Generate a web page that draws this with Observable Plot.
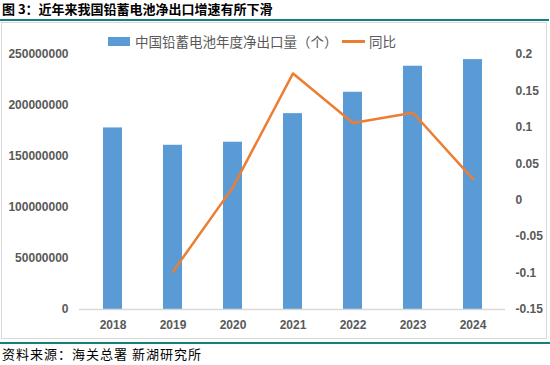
<!DOCTYPE html>
<html>
<head>
<meta charset="utf-8">
<script src="https://cdn.jsdelivr.net/npm/d3@7"></script>
<script src="https://cdn.jsdelivr.net/npm/@observablehq/plot@0.6"></script>
<style>
  body { margin: 0; background: #fff; }
  #wrap { position: relative; width: 550px; height: 365px; overflow: hidden; font-family: "Noto Sans CJK SC", sans-serif; }
  #title { position: absolute; left: 2px; top: 1px; font-size: 13px; font-weight: bold; color: #000; white-space: nowrap; line-height: 16px; }
  #topline { position: absolute; left: 0; top: 19px; width: 549px; height: 2px; background: #13807a; }
  #frame { position: absolute; left: 1px; top: 22px; width: 546px; height: 317px; border: 1px solid #d9d9d9; box-sizing: border-box; }
  #botline { position: absolute; left: 0; top: 342px; width: 550px; height: 2px; background: #13807a; }
  #caption { position: absolute; left: 2px; top: 346px; font-size: 13px; letter-spacing: 1px; color: #000; white-space: nowrap; line-height: 16px; }
  .layer { position: absolute; left: 0; top: 0; }
  #legend { position: absolute; top: 32px; left: 0; width: 550px; height: 18px; font-size: 13.5px; color: #595959; }
  .sw { position: absolute; }
  .lt { position: absolute; top: 0; line-height: 18px; white-space: nowrap; }
</style>
</head>
<body>
<div id="wrap">
  <div id="frame"></div>
  <div id="title">图 3：近年来我国铅蓄电池净出口增速有所下滑</div>
  <div id="topline"></div>
  <div id="chart1" class="layer"></div>
  <div id="chart2" class="layer"></div>
  <div id="legend">
    <div class="sw" style="left:108px;top:5px;width:22px;height:9px;background:#5b9bd5"></div>
    <div class="lt" style="left:135px">中国铅蓄电池年度净出口量（个）</div>
    <div class="sw" style="left:342px;top:8px;width:23px;height:3px;background:#ed7d31"></div>
    <div class="lt" style="left:369px">同比</div>
  </div>
  <div id="botline"></div>
  <div id="caption">资料来源：海关总署 新湖研究所</div>
</div>
<script>
const years = ["2018", "2019", "2020", "2021", "2022", "2023", "2024"];
const exportsQty = [178000000, 161000000, 164000000, 192000000, 213000000, 238500000, 245000000];
const yoy = [null, -0.098, 0.018, 0.174, 0.106, 0.12, 0.029];
const leftTicks = [0, 50000000, 100000000, 150000000, 200000000, 250000000];
const rightTicks = [-0.15, -0.1, -0.05, 0, 0.05, 0.1, 0.15, 0.2];

const barData = years.map((y, i) => ({year: y, value: exportsQty[i]}));
const lineData = years.map((y, i) => ({year: y, value: yoy[i]})).filter(d => d.value != null);

const common = {
  width: 550,
  height: 365,
  marginTop: 54,
  marginBottom: 56,
  marginLeft: 79,
  marginRight: 45
};
const xScale = {type: "band", domain: years, paddingInner: 0.69, paddingOuter: 0.345};
const tickStyle = {fontSize: 12, fontWeight: "bold", fill: "#595959", fontFamily: "'Liberation Sans', Arial, sans-serif"};

const p1 = Plot.plot({
  ...common,
  style: {background: "transparent", color: "#595959", fontFamily: "'Liberation Sans', Arial, sans-serif"},
  x: {...xScale, axis: null},
  y: {domain: [0, 250000000], axis: null},
  marks: [
    Plot.barY(barData, {x: "year", y: "value", fill: "#5b9bd5"}),
    Plot.ruleY([0], {stroke: "#d9d9d9", strokeWidth: 1.5}),
    Plot.axisY(leftTicks, {anchor: "left", tickSize: 0, tickPadding: 11, tickFormat: d3.format("d"), label: null, ...tickStyle}),
    Plot.axisX({tickSize: 0, tickPadding: 11, label: null, ...tickStyle})
  ]
});
document.getElementById("chart1").appendChild(p1);

const p2 = Plot.plot({
  ...common,
  style: {background: "transparent", color: "#595959", fontFamily: "'Liberation Sans', Arial, sans-serif"},
  x: {...xScale, axis: null},
  y: {domain: [-0.15, 0.2], axis: null},
  marks: [
    Plot.lineY(lineData, {x: "year", y: "value", stroke: "#ed7d31", strokeWidth: 2.5}),
    Plot.axisY(rightTicks, {anchor: "right", tickSize: 0, tickPadding: 10, tickFormat: d => String(+d.toFixed(2)), label: null, textAnchor: "start", ...tickStyle})
  ]
});
document.getElementById("chart2").appendChild(p2);
</script>
</body>
</html>
